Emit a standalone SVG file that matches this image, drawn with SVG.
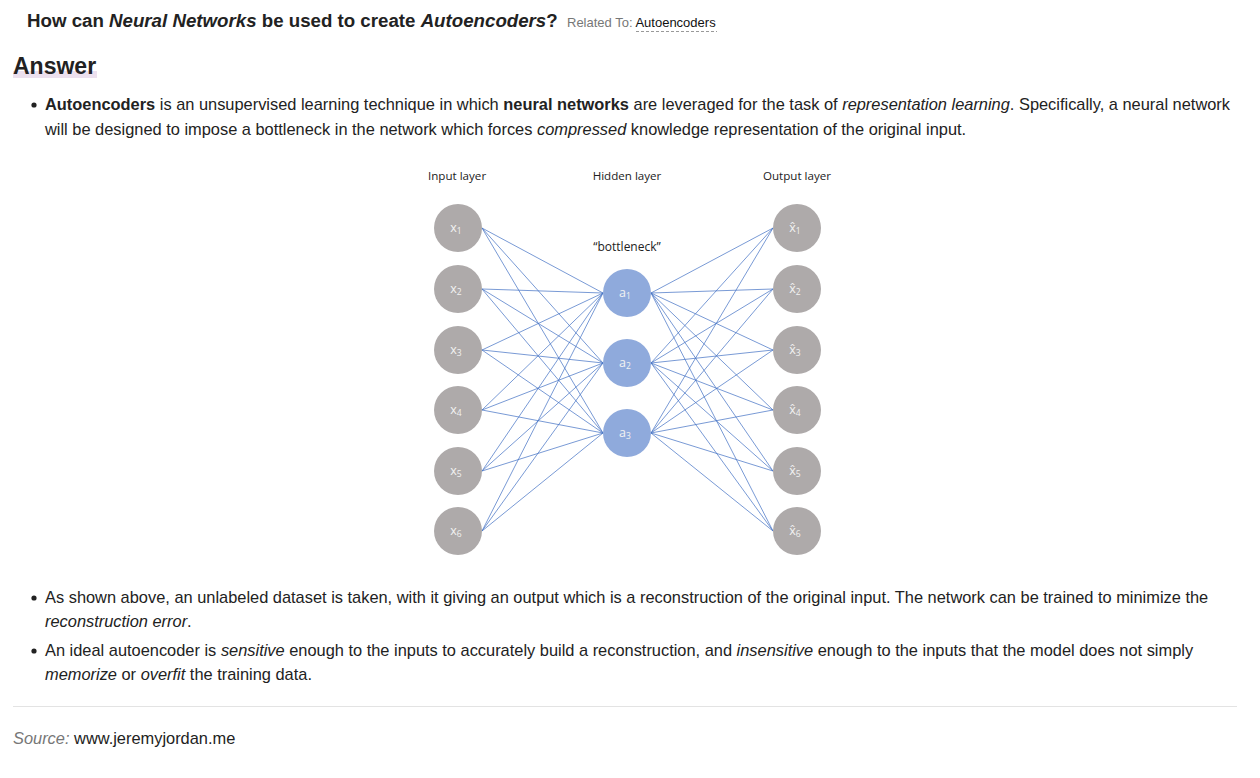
<svg xmlns="http://www.w3.org/2000/svg" width="1260" height="778" viewBox="0 0 1260 778">
<style>
text{font-family:"Liberation Sans",Arial,sans-serif;fill:#222}
.body{font-size:16.4px}
.b{font-weight:bold}
.i{font-style:italic}
.lbl{font-family:"Open Sans","Liberation Sans",sans-serif;font-size:11.6px;fill:#222}
.nlbl{font-family:"Open Sans","Liberation Sans",sans-serif;font-size:12.5px;fill:#f2f2f2;text-anchor:middle}
.sub{font-size:8.5px;fill:#f2f2f2}
.gn{fill:#aeaaaa}
.bn{fill:#8faadc}
.edge{stroke:#4472c4;stroke-width:0.8;fill:none;opacity:0.9}
</style>
<rect width="1260" height="778" fill="#ffffff"/>
<g id="header">
<text x="27" y="27" style="font-size:18.7px" class="b">How can <tspan class="i">Neural Networks</tspan> be used to create <tspan class="i">Autoencoders</tspan>?</text>
<text x="567" y="27" style="font-size:13px;fill:#777">Related To: <tspan style="fill:#111">Autoencoders</tspan></text>
<line x1="636" y1="31.5" x2="717" y2="31.5" stroke="#999" stroke-width="1" stroke-dasharray="3,2"/>
<rect x="13" y="71" width="84" height="7" fill="#ece0ee"/>
<text x="13" y="74" style="font-size:23px" class="b">Answer</text>
</g>
<g id="para1">
<circle cx="34" cy="105" r="2.6" fill="#222"/>
<text x="45" y="110" class="body"><tspan class="b">Autoencoders</tspan> is an unsupervised learning technique in which <tspan class="b">neural networks</tspan> are leveraged for the task of <tspan class="i">representation learning</tspan>. Specifically, a neural network</text>
<text x="45" y="135" class="body">will be designed to impose a bottleneck in the network which forces <tspan class="i">compressed</tspan> knowledge representation of the original input.</text>
</g>
<g id="layer-labels">
<text x="428" y="180" class="lbl">Input layer</text>
<text x="627" y="180" class="lbl" text-anchor="middle">Hidden layer</text>
<text x="797" y="180" class="lbl" text-anchor="middle">Output layer</text>
<text x="627" y="251" class="lbl" text-anchor="middle" style="font-size:12px">“bottleneck”</text>
</g>
<g id="connectors">
<path class="edge" d="M482 228L603 293M482 228L603 363M482 228L603 433
M482 289L603 293M482 289L603 363M482 289L603 433
M482 350L603 293M482 350L603 363M482 350L603 433
M482 410L603 293M482 410L603 363M482 410L603 433
M482 471L603 293M482 471L603 363M482 471L603 433
M482 531L603 293M482 531L603 363M482 531L603 433
M651 293L773 228M651 293L773 289M651 293L773 350M651 293L773 410M651 293L773 471M651 293L773 531
M651 363L773 228M651 363L773 289M651 363L773 350M651 363L773 410M651 363L773 471M651 363L773 531
M651 433L773 228M651 433L773 289M651 433L773 350M651 433L773 410M651 433L773 471M651 433L773 531"/>
</g>
<g id="x1"><circle class="gn" cx="458" cy="228" r="24"/><text class="nlbl" x="456" y="232">x<tspan class="sub" dy="2">1</tspan></text></g>
<g id="x2"><circle class="gn" cx="458" cy="289" r="24"/><text class="nlbl" x="456" y="293">x<tspan class="sub" dy="2">2</tspan></text></g>
<g id="x3"><circle class="gn" cx="458" cy="350" r="24"/><text class="nlbl" x="456" y="354">x<tspan class="sub" dy="2">3</tspan></text></g>
<g id="x4"><circle class="gn" cx="458" cy="410" r="24"/><text class="nlbl" x="456" y="414">x<tspan class="sub" dy="2">4</tspan></text></g>
<g id="x5"><circle class="gn" cx="458" cy="471" r="24"/><text class="nlbl" x="456" y="475">x<tspan class="sub" dy="2">5</tspan></text></g>
<g id="x6"><circle class="gn" cx="458" cy="531" r="24"/><text class="nlbl" x="456" y="535">x<tspan class="sub" dy="2">6</tspan></text></g>
<g id="a1"><circle class="bn" cx="627" cy="293" r="24"/><text class="nlbl" x="625" y="297">a<tspan class="sub" dy="2">1</tspan></text></g>
<g id="a2"><circle class="bn" cx="627" cy="363" r="24"/><text class="nlbl" x="625" y="367">a<tspan class="sub" dy="2">2</tspan></text></g>
<g id="a3"><circle class="bn" cx="627" cy="433" r="24"/><text class="nlbl" x="625" y="437">a<tspan class="sub" dy="2">3</tspan></text></g>
<g id="y1"><circle class="gn" cx="797" cy="228" r="24"/><text class="nlbl" x="795" y="232">x̂<tspan class="sub" dy="2">1</tspan></text></g>
<g id="y2"><circle class="gn" cx="797" cy="289" r="24"/><text class="nlbl" x="795" y="293">x̂<tspan class="sub" dy="2">2</tspan></text></g>
<g id="y3"><circle class="gn" cx="797" cy="350" r="24"/><text class="nlbl" x="795" y="354">x̂<tspan class="sub" dy="2">3</tspan></text></g>
<g id="y4"><circle class="gn" cx="797" cy="410" r="24"/><text class="nlbl" x="795" y="414">x̂<tspan class="sub" dy="2">4</tspan></text></g>
<g id="y5"><circle class="gn" cx="797" cy="471" r="24"/><text class="nlbl" x="795" y="475">x̂<tspan class="sub" dy="2">5</tspan></text></g>
<g id="y6"><circle class="gn" cx="797" cy="531" r="24"/><text class="nlbl" x="795" y="535">x̂<tspan class="sub" dy="2">6</tspan></text></g>
<g id="para2">
<circle cx="34" cy="598" r="2.6" fill="#222"/>
<text x="45" y="603" class="body">As shown above, an unlabeled dataset is taken, with it giving an output which is a reconstruction of the original input. The network can be trained to minimize the</text>
<text x="45" y="627" class="body i">reconstruction error<tspan style="font-style:normal">.</tspan></text>
<circle cx="34" cy="651" r="2.6" fill="#222"/>
<text x="45" y="656" class="body">An ideal autoencoder is <tspan class="i">sensitive</tspan> enough to the inputs to accurately build a reconstruction, and <tspan class="i">insensitive</tspan> enough to the inputs that the model does not simply</text>
<text x="45" y="680" class="body"><tspan class="i">memorize</tspan> or <tspan class="i">overfit</tspan> the training data.</text>
</g>
<line x1="13" y1="706.5" x2="1237" y2="706.5" stroke="#e3e3e3" stroke-width="1"/>
<g id="source">
<text x="13" y="744" class="body"><tspan class="i" style="fill:#777">Source:</tspan> www.jeremyjordan.me</text>
</g>
</svg>
